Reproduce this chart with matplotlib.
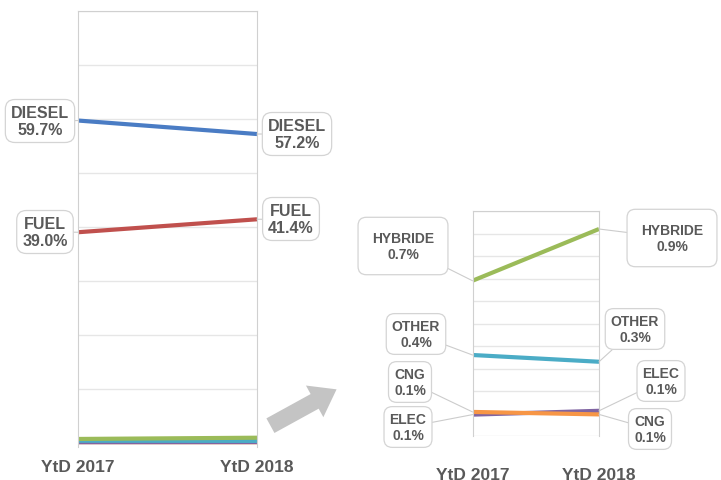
import matplotlib.pyplot as plt

# data
periods = ['YtD 2017', 'YtD 2018']
diesel = [59.7, 57.2]
fuel = [39.0, 41.4]
hybride = [0.69, 0.92]
other = [0.36, 0.33]
cng = [0.107, 0.096]
elec = [0.095, 0.112]

big_labels = ['DIESEL', 'FUEL']
big_values = [diesel, fuel]
small_labels = ['HYBRIDE', 'OTHER', 'ELEC', 'CNG']
small_values = [hybride, other, elec, cng]

colors = {'DIESEL': '#4a7cc4', 'FUEL': '#c0504d', 'HYBRIDE': '#9bbb59',
          'OTHER': '#4bacc6', 'CNG': '#f79646', 'ELEC': '#8064a2'}

plt.rcParams['font.family'] = ['Liberation Sans', 'DejaVu Sans']
txt_col = '#595959'

W, H = 721, 481
fig = plt.figure(figsize=(W / 100, H / 100), dpi=100)


def px(x, y):
    # top-left pixel coords -> figure pixels
    return (x, H - y)


def style_axes(ax, pad):
    for s in ['left', 'right', 'top']:
        ax.spines[s].set_color('#d0d0d0')
    ax.spines['bottom'].set_visible(False)
    ax.yaxis.grid(True, color='#e6e6e6', lw=1)
    ax.tick_params(axis='y', left=False, labelleft=False)
    ax.tick_params(axis='x', length=0, pad=pad, labelsize=12.5, labelcolor=txt_col)
    ax.set_xlim(0, 1)
    ax.set_xticks([0, 1])
    ax.set_xticklabels(periods, fontweight='bold')
    ax.set_axisbelow(True)


def label(ax, name, val, i, pos, size, pad):
    fmt = '%s\n%.1f%%' % (name, round(val, 1))
    ax.annotate(fmt, xy=(i, val), xycoords='data', xytext=px(*pos),
                textcoords='figure pixels', ha='center', va='center',
                fontsize=size, fontweight='bold', color=txt_col, linespacing=1.15,
                bbox=dict(boxstyle='round,pad=%s,rounding_size=0.6' % pad,
                          fc='white', ec='#d4d4d4', lw=0.9),
                arrowprops=dict(arrowstyle='-', color='#cccccc', lw=0.8,
                                shrinkA=0, shrinkB=0),
                annotation_clip=False, zorder=5)


# left chart: all fuels
ax1 = fig.add_axes([78 / W, (H - 448) / H, 179 / W, 436 / H])
ax1.set_ylim(-0.8, 80)
ax1.set_yticks(range(0, 81, 10))
for name, vals in zip(small_labels[::-1], small_values[::-1]):
    ax1.plot([0, 1], vals, color=colors[name], lw=3, solid_capstyle='butt')
for name, vals in zip(big_labels, big_values):
    ax1.plot([0, 1], vals, color=colors[name], lw=3, solid_capstyle='butt')
style_axes(ax1, 9)

big_pos = {'DIESEL': [(40, 122), (297, 135)], 'FUEL': [(45, 233), (291, 220)]}
for name, vals in zip(big_labels, big_values):
    for i in range(2):
        label(ax1, name, vals[i], i, big_pos[name][i], 11.5, 0.35)

# right chart: zoom on small fuels
ax2 = fig.add_axes([472.5 / W, (H - 437) / H, 126.5 / W, 225 / H])
ax2.set_ylim(0, 1.0)
ax2.set_yticks([k / 10 for k in range(11)])
for name, vals in zip(small_labels, small_values):
    ax2.plot([0, 1], vals, color=colors[name], lw=3, solid_capstyle='butt')
style_axes(ax2, 22)

small_pos = {'HYBRIDE': [(403, 247), (672, 239)], 'OTHER': [(416, 335), (635, 330)],
             'CNG': [(410, 383), (650, 430)], 'ELEC': [(408, 428), (661, 382)]}
for name, vals in zip(small_labels, small_values):
    for i in range(2):
        p = 1.0 if name == 'HYBRIDE' else 0.4
        label(ax2, name, vals[i], i, small_pos[name][i], 10, p)

# gray block arrow between charts
fig.add_artist(plt.matplotlib.patches.FancyArrowPatch(
    px(268, 428), px(339, 389), transform=None,
    arrowstyle='simple,head_width=1.3,head_length=0.9,tail_width=0.6',
    mutation_scale=20, color='#c4c4c4', lw=0))

fig.savefig('out.png', dpi=100)
